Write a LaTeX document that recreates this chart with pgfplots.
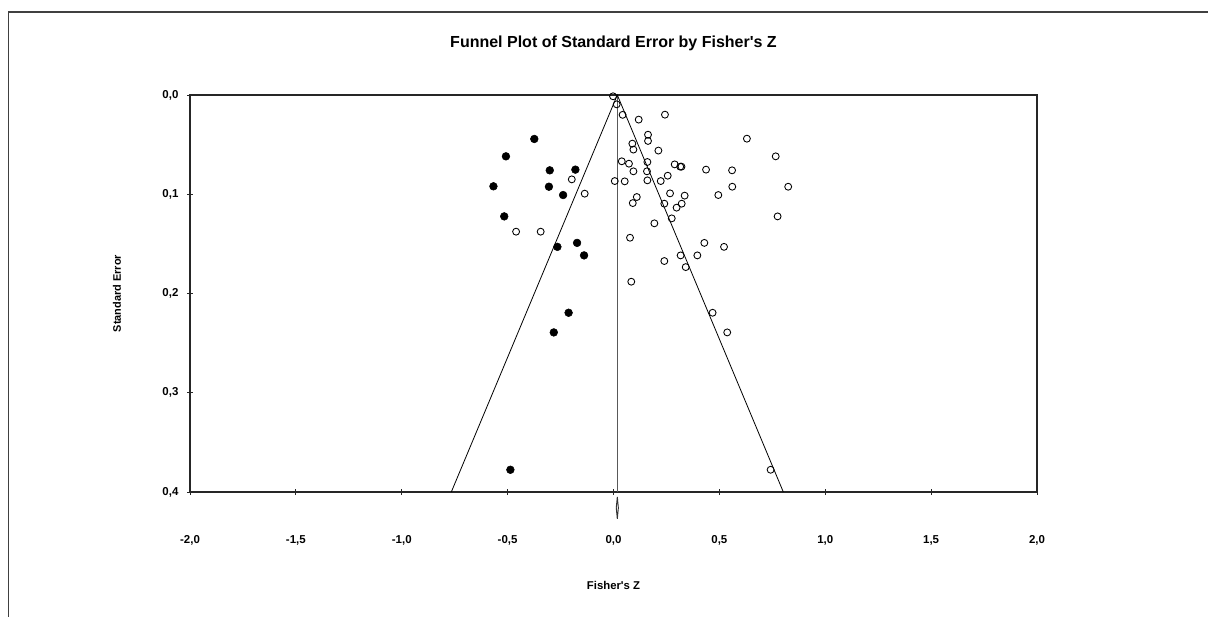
\documentclass[border=0pt]{standalone}
\usepackage{pgfplots}
\pgfplotsset{compat=1.18}
\usepackage{fontspec}
\setmainfont{Liberation Sans}
\begin{document}
\begin{tikzpicture}
\path[use as bounding box] (0pt,0pt) rectangle (906pt,462.75pt);
\draw[line width=1pt,color=black!75] (6.5pt,0pt) -- (6.5pt,453.75pt) -- (908pt,453.75pt);
\begin{axis}[
  at={(142.5pt,93.75pt)}, anchor=south west,
  scale only axis, width=635.25pt, height=297.75pt,
  xmin=-2, xmax=2, ymin=0, ymax=0.4, y dir=reverse,
  clip=false,
  axis line style={line width=0.9pt, color=black!85},
  xtick={-2,-1.5,...,2}, ytick={0,0.1,0.2,0.3,0.4},
  xtick pos=bottom, ytick pos=left,
  tick style={black!85, line width=0.6pt},
  major tick length=4pt,
  xtick align=center, ytick align=center,
  /pgf/number format/.cd, use comma, fixed, fixed zerofill, precision=1, assume math mode=true,
  /pgfplots/.cd,
  tick label style={font=\fontsize{8.6}{10}\selectfont\bfseries, inner sep=0pt},
  xticklabel style={anchor=center, yshift=-34.5pt},
  yticklabel style={anchor=east, xshift=-6.5pt},
  title={Funnel Plot of Standard Error by Fisher\textquotesingle s Z},
  title style={font=\fontsize{12}{14}\selectfont\bfseries, at={(axis description cs:0.5,1.111)}, anchor=center},
  xlabel={Fisher\textquotesingle s Z},
  xlabel style={font=\fontsize{8.5}{10}\selectfont\bfseries, at={(axis description cs:0.5,-0.236)}, anchor=center},
  ylabel={Standard Error},
  ylabel style={font=\fontsize{8.2}{10}\selectfont\bfseries, at={(axis description cs:-0.0862,0.5)}, anchor=center},
]
% mean line
\addplot[color=black!65, line width=0.8pt] coordinates {(0.018,0) (0.018,0.4)};
% funnel
\addplot[color=black, line width=0.6pt] coordinates {(-0.766,0.4) (0.018,0) (0.802,0.4)};
% diamond
\addplot[color=black!80, line width=0.7pt] coordinates {(0.018,0.405) (0.023,0.416) (0.018,0.427) (0.013,0.416) (0.018,0.405)};
% imputed (filled)
\addplot[only marks, mark=*, mark size=2.9pt, mark options={fill=black, draw=black}] coordinates {
(-0.374,0.0443) (-0.508,0.0618) (-0.301,0.0759) (-0.180,0.0752) (-0.567,0.092)
(-0.305,0.0924) (-0.238,0.1008) (-0.516,0.1223) (-0.265,0.153) (-0.172,0.149)
(-0.139,0.1616) (-0.212,0.2194) (-0.282,0.2392) (-0.487,0.3776)};
% observed (open)
\addplot[only marks, mark=o, mark size=2.6pt, mark options={draw=black, line width=0.65pt}] coordinates {
(-0.002,0.0013) (0.015,0.0094) (0.043,0.020) (0.119,0.0248) (0.243,0.0198)
(0.163,0.040) (0.163,0.0463) (0.089,0.049) (0.094,0.055) (0.212,0.056)
(0.039,0.0668) (0.073,0.0692) (0.160,0.0675) (0.094,0.0769) (0.158,0.0769)
(-0.197,0.085) (0.006,0.0867) (0.053,0.087) (0.160,0.086) (0.223,0.0867)
(-0.136,0.0994) (0.110,0.1028) (0.091,0.1089) (-0.460,0.1377) (-0.344,0.1377)
(0.193,0.1293) (0.078,0.1438)
(0.630,0.044) (0.766,0.0618) (0.289,0.0699) (0.315,0.0722) (0.321,0.0722)
(0.437,0.0752) (0.560,0.0759) (0.256,0.0813) (0.561,0.0924) (0.825,0.0924)
(0.267,0.0991) (0.336,0.1014) (0.495,0.1008) (0.240,0.1095) (0.322,0.1095)
(0.298,0.1135) (0.775,0.1223) (0.275,0.1243) (0.429,0.149) (0.522,0.153)
(0.240,0.1673) (0.317,0.1616) (0.396,0.1616) (0.341,0.1734) (0.084,0.1881)
(0.468,0.2194) (0.537,0.2392) (0.742,0.3776)};
\end{axis}
\end{tikzpicture}
\end{document}
